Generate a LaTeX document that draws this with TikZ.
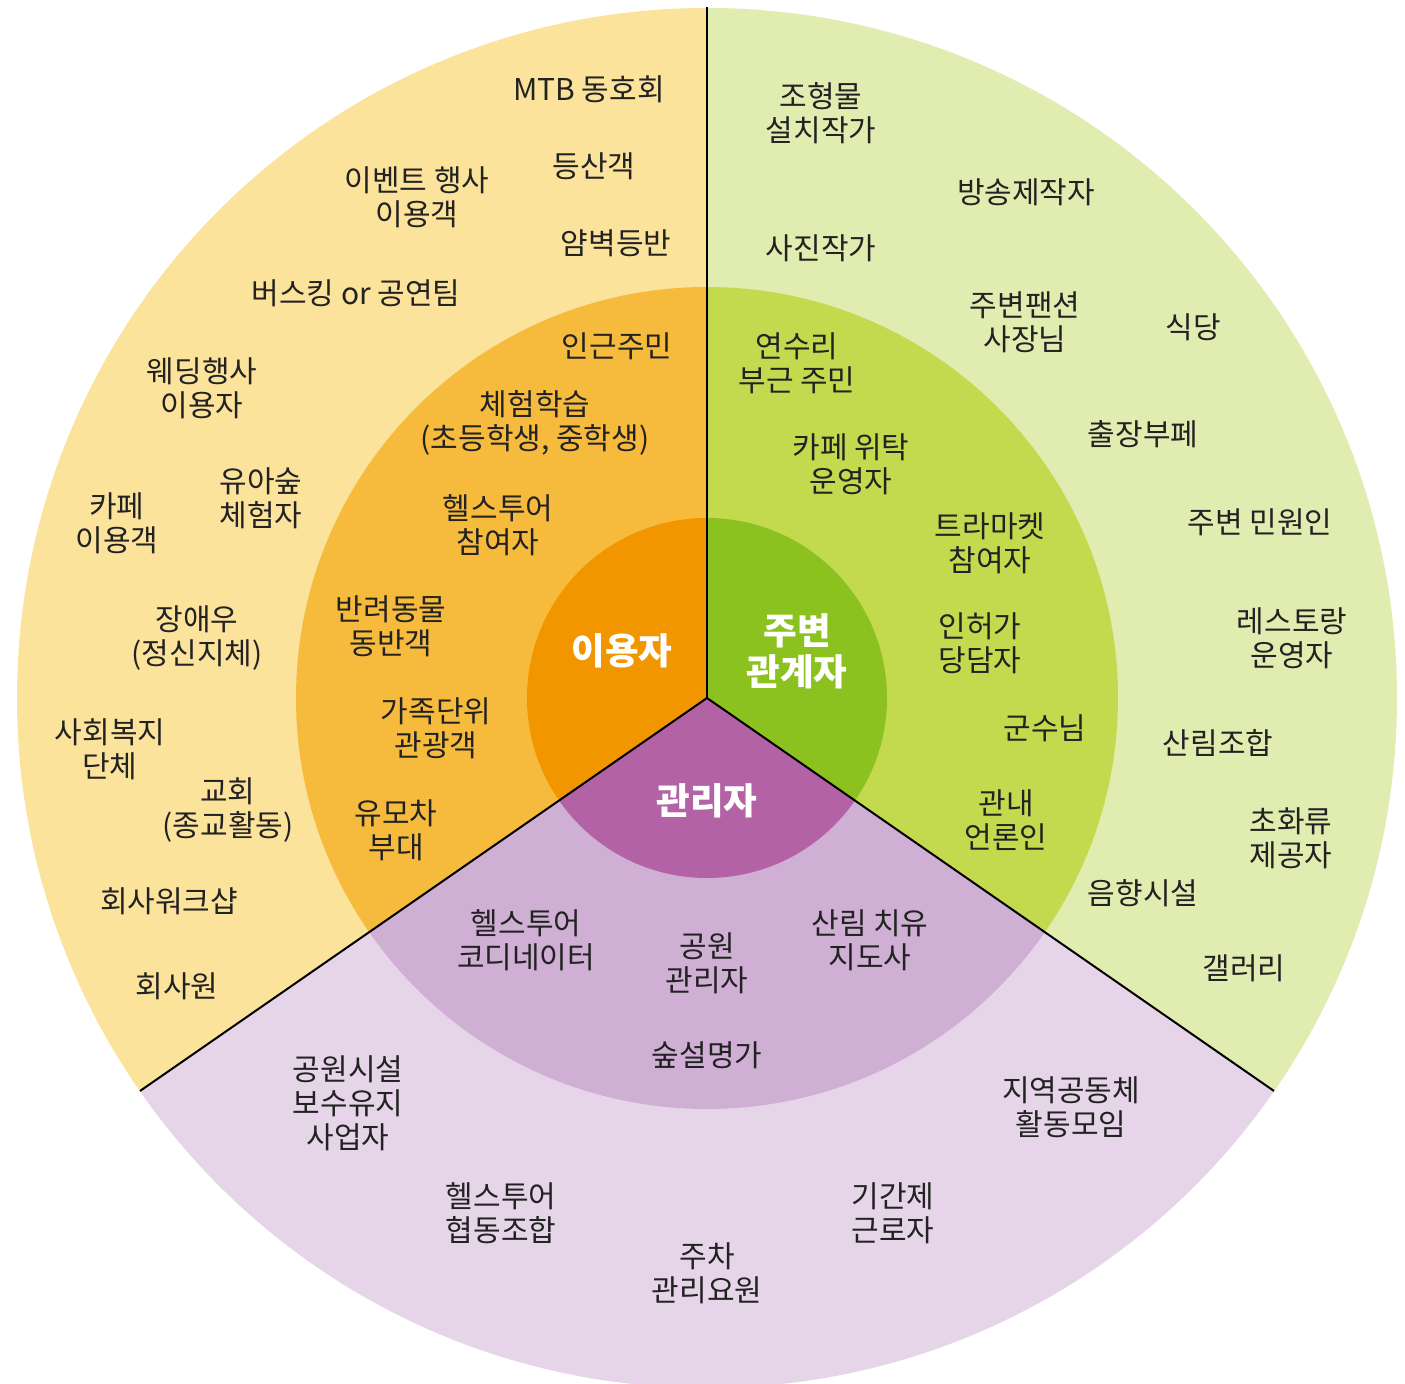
\documentclass[tikz,border=0pt]{standalone}
\usepackage{fontspec}
\setmainfont{Noto Sans CJK KR}
\definecolor{yOut}{HTML}{FCE39C}
\definecolor{yMid}{HTML}{F6BB3D}
\definecolor{yIn}{HTML}{F29600}
\definecolor{gOut}{HTML}{E1ECB0}
\definecolor{gMid}{HTML}{C4DA4E}
\definecolor{gIn}{HTML}{8CC21F}
\definecolor{pOut}{HTML}{E6D5E9}
\definecolor{pMid}{HTML}{CFAFD4}
\definecolor{pIn}{HTML}{B462A6}
\definecolor{txt}{HTML}{222222}
\begin{document}
\begin{tikzpicture}[x=0.5pt,y=-0.5pt,
  lbl/.style={font=\fontsize{15}{17}\selectfont, align=center, inner sep=0pt, text=txt},
  core/.style={font=\fontsize{18.3}{20.5}\selectfont\bfseries, align=center, inner sep=0pt, text=white},
  divider/.style={draw=black, line width=1pt}]
\useasboundingbox (0,0) rectangle (1405,1384);
\coordinate (c) at (707,698);
\coordinate (top) at (707,7);
\coordinate (ll) at (140,1091);
\coordinate (lr) at (1274,1091);
% user sector
\begin{scope}
\clip (c) -- (707,-300) -- (-994,-300) -- (-994,1877) -- cycle;
\fill[yOut] (c) circle[radius=345pt];
\fill[yMid] (c) circle[radius=205.5pt];
\fill[yIn] (c) circle[radius=90pt];
\end{scope}
% neighbour sector
\begin{scope}
\clip (c) -- (707,-300) -- (2408,-300) -- (2408,1877) -- cycle;
\fill[gOut] (c) circle[radius=345pt];
\fill[gMid] (c) circle[radius=205.5pt];
\fill[gIn] (c) circle[radius=90pt];
\end{scope}
% manager sector
\begin{scope}
\clip (c) -- (-994,1877) -- (2408,1877) -- cycle;
\fill[pOut] (c) circle[radius=345pt];
\fill[pMid] (c) circle[radius=205.5pt];
\fill[pIn] (c) circle[radius=90pt];
\end{scope}
\draw[divider] (c) -- (top);
\draw[divider] (c) -- (ll);
\draw[divider] (c) -- (lr);
% core labels
\node[core] (cu) at (622,651) {이용자};
\node[core] (cg) at (797,651) {주변\\관계자};
\node[core] (cp) at (707,801) {관리자};
% users outer
\node[lbl] (u1) at (589,89) {MTB 동호회};
\node[lbl] (u2) at (594,166) {등산객};
\node[lbl] (u3) at (417,197) {이벤트 행사\\이용객};
\node[lbl] (u4) at (616,243) {얌벽등반};
\node[lbl] (u5) at (356,293) {버스킹 or 공연팀};
\node[lbl] (u6) at (202,388) {웨딩행사\\이용자};
\node[lbl] (u7) at (261,498) {유아숲\\체험자};
\node[lbl] (u8) at (117,523) {카페\\이용객};
\node[lbl] (u9) at (197,638) {장애우\\(정신지체)};
\node[lbl] (u10) at (110,749) {사회복지\\단체};
\node[lbl] (u11) at (228,810) {교회\\(종교활동)};
\node[lbl] (u12) at (169,901) {회사워크샵};
\node[lbl] (u13) at (177,986) {회사원};
% users middle
\node[lbl] (m1) at (617,346) {인근주민};
\node[lbl] (m2) at (535,423) {체험학습\\(초등학생, 중학생)};
\node[lbl] (m3) at (498,525) {헬스투어\\참여자};
\node[lbl] (m4) at (391,626) {반려동물\\동반객};
\node[lbl] (m5) at (436,728) {가족단위\\관광객};
\node[lbl] (m6) at (396,830) {유모차\\부대};
% neighbours outer
\node[lbl] (g1) at (821,113) {조형물\\설치작가};
\node[lbl] (g2) at (1026,192) {방송제작자};
\node[lbl] (g3) at (821,248) {사진작가};
\node[lbl] (g4) at (1025,322) {주변팬션\\사장님};
\node[lbl] (g5) at (1193,327) {식당};
\node[lbl] (g6) at (1143,434) {출장부페};
\node[lbl] (g7) at (1260,522) {주변 민원인};
\node[lbl] (g8) at (1292,638) {레스토랑\\운영자};
\node[lbl] (g9) at (1218,743) {산림조합};
\node[lbl] (g10) at (1291,838) {초화류\\제공자};
\node[lbl] (g11) at (1143,893) {음향시설};
\node[lbl] (g12) at (1244,968) {갤러리};
% neighbours middle
\node[lbl] (n1) at (797,363) {연수리\\부근 주민};
\node[lbl] (n2) at (851,464) {카페 위탁\\운영자};
\node[lbl] (n3) at (990,543) {트라마켓\\참여자};
\node[lbl] (n4) at (980,643) {인허가\\당담자};
\node[lbl] (n5) at (1045,728) {군수님};
\node[lbl] (n6) at (1006,820) {관내\\언론인};
% managers middle
\node[lbl] (p1) at (526,940) {헬스투어\\코디네이터};
\node[lbl] (p2) at (707,963) {공원\\관리자};
\node[lbl] (p3) at (870,940) {산림 치유\\지도사};
\node[lbl] (p4) at (707,1055) {숲설명가};
% managers outer
\node[lbl] (q1) at (348,1103) {공원시설\\보수유지\\사업자};
\node[lbl] (q2) at (1071,1107) {지역공동체\\활동모임};
\node[lbl] (q3) at (501,1213) {헬스투어\\협동조합};
\node[lbl] (q4) at (893,1213) {기간제\\근로자};
\node[lbl] (q5) at (707,1273) {주차\\관리요원};
\end{tikzpicture}
\end{document}
